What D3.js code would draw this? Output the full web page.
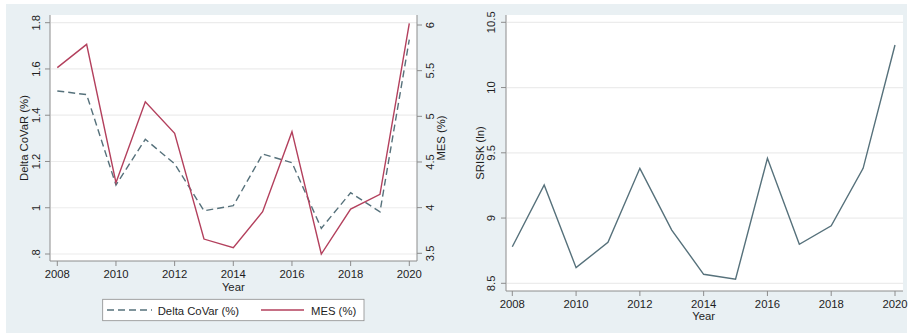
<!DOCTYPE html>
<html>
<head>
<meta charset="utf-8">
<script src="https://cdn.jsdelivr.net/npm/d3@7"></script>
<style>
  html, body { margin: 0; padding: 0; background: #ffffff; }
  svg { display: block; }
  text { font-family: "Liberation Sans", Arial, Helvetica, sans-serif; fill: #1e1e1e; }
</style>
</head>
<body>
<svg id="chart" width="910" height="335"></svg>
<script>
// Annual series, 2008-2020
const years = [2008, 2009, 2010, 2011, 2012, 2013, 2014, 2015, 2016, 2017, 2018, 2019, 2020];
const deltaCoVaR = [1.505, 1.489, 1.098, 1.296, 1.19, 0.987, 1.009, 1.232, 1.195, 0.911, 1.065, 0.982, 1.727];
const mes = [5.533, 5.788, 4.273, 5.16, 4.814, 3.656, 3.561, 3.955, 4.832, 3.492, 3.985, 4.146, 6.018];
const srisk = [8.78, 9.253, 8.62, 8.814, 9.381, 8.908, 8.569, 8.531, 9.458, 8.799, 8.941, 9.381, 10.326];

// Tick values
const yearTicks = [2008, 2010, 2012, 2014, 2016, 2018, 2020];
const covarTicks = [0.8, 1.0, 1.2, 1.4, 1.6, 1.8];
const covarTickLabels = [".8", "1", "1.2", "1.4", "1.6", "1.8"];
const mesTicks = [3.5, 4, 4.5, 5, 5.5, 6];
const mesTickLabels = ["3.5", "4", "4.5", "5", "5.5", "6"];
const sriskTicks = [8.5, 9, 9.5, 10, 10.5];
const sriskTickLabels = ["8.5", "9", "9.5", "10", "10.5"];

const COL_COVAR = "#56717b";
const COL_MES = "#b3405d";
const COL_AXIS = "#8c8c8c";
const COL_GRID = "#ececec";
const FONT = 11.3;

const svg = d3.select("#chart");

// shared background of the combined figure
svg.append("rect").attr("x", 6).attr("y", 4).attr("width", 901).attr("height", 329).attr("fill", "#e9f0f3");

function verticalLabel(g, x, y, txt, size) {
  g.append("text")
    .attr("transform", `translate(${x},${y}) rotate(-90)`)
    .attr("text-anchor", "middle")
    .style("font-size", size + "px")
    .text(txt);
}

function drawPanel(cfg) {
  const g = svg.append("g");
  const { left, right, top, bottom, x, yL } = cfg;

  g.append("rect").attr("x", left).attr("y", top)
    .attr("width", right - left).attr("height", bottom - top).attr("fill", "#ffffff");

  // horizontal gridlines at left-axis ticks
  g.selectAll("line.grid").data(cfg.leftTicks).join("line")
    .attr("x1", left + 1).attr("x2", right)
    .attr("y1", d => yL(d)).attr("y2", d => yL(d))
    .attr("stroke", COL_GRID).attr("stroke-width", 1.2);

  // axis lines
  g.append("line").attr("x1", left).attr("x2", left).attr("y1", top).attr("y2", bottom)
    .attr("stroke", COL_AXIS).attr("stroke-width", 1);
  g.append("line").attr("x1", left).attr("x2", right).attr("y1", bottom).attr("y2", bottom)
    .attr("stroke", COL_AXIS).attr("stroke-width", 1);

  // left ticks + rotated labels
  cfg.leftTicks.forEach((t, i) => {
    g.append("line").attr("x1", left - 5).attr("x2", left).attr("y1", yL(t)).attr("y2", yL(t))
      .attr("stroke", COL_AXIS);
    verticalLabel(g, cfg.leftLabelX, yL(t), cfg.leftLabels[i], FONT);
  });
  verticalLabel(g, cfg.leftTitleX, (top + bottom) / 2 + cfg.titleShift, cfg.leftTitle, FONT);

  // bottom axis
  yearTicks.forEach(t => {
    g.append("line").attr("x1", x(t)).attr("x2", x(t)).attr("y1", bottom).attr("y2", bottom + 5)
      .attr("stroke", COL_AXIS);
    g.append("text").attr("x", x(t)).attr("y", cfg.xLabelY).attr("text-anchor", "middle")
      .style("font-size", FONT + "px").text(t);
  });
  g.append("text").attr("x", (x(2008) + x(2020)) / 2).attr("y", cfg.xTitleY)
    .attr("text-anchor", "middle").style("font-size", FONT + "px").text("Year");
  return g;
}

// ---- Panel 1: Delta CoVaR and MES ----
const p1 = { left: 50, right: 417, top: 15, bottom: 261 };
p1.x = d3.scaleLinear().domain([2008, 2020]).range([57.3, 409.3]);
p1.yL = d3.scaleLinear().domain([0.8, 1.8]).range([254, 22.7]);
const yMes = d3.scaleLinear().domain([3.5, 6]).range([253.3, 25]);
Object.assign(p1, {
  leftTicks: covarTicks, leftLabels: covarTickLabels, leftLabelX: 40,
  leftTitleX: 28, leftTitle: "Delta CoVaR (%)", titleShift: 0,
  xLabelY: 278, xTitleY: 290.5
});
const g1 = drawPanel(p1);

// right axis for MES
g1.append("line").attr("x1", p1.right).attr("x2", p1.right).attr("y1", p1.top).attr("y2", p1.bottom)
  .attr("stroke", COL_AXIS);
mesTicks.forEach((t, i) => {
  g1.append("line").attr("x1", p1.right).attr("x2", p1.right + 5).attr("y1", yMes(t)).attr("y2", yMes(t))
    .attr("stroke", COL_AXIS);
  verticalLabel(g1, 433.5, yMes(t), mesTickLabels[i], FONT);
});
verticalLabel(g1, 445, (p1.top + p1.bottom) / 2, "MES (%)", FONT);

const lineCovar = d3.line().x((d, i) => p1.x(years[i])).y(d => p1.yL(d));
const lineMes = d3.line().x((d, i) => p1.x(years[i])).y(d => yMes(d));
g1.append("path").datum(deltaCoVaR).attr("d", lineCovar).attr("fill", "none")
  .attr("stroke", COL_COVAR).attr("stroke-width", 1.4).attr("stroke-dasharray", "7,4");
g1.append("path").datum(mes).attr("d", lineMes).attr("fill", "none")
  .attr("stroke", COL_MES).attr("stroke-width", 1.4);

// legend
const lg = g1.append("g");
lg.append("rect").attr("x", 102.7).attr("y", 299.3).attr("width", 261.3).attr("height", 21.4)
  .attr("fill", "#ffffff").attr("stroke", "#8c8c8c").attr("stroke-width", 0.8);
lg.append("line").attr("x1", 107).attr("x2", 152).attr("y1", 310).attr("y2", 310)
  .attr("stroke", COL_COVAR).attr("stroke-width", 1.4).attr("stroke-dasharray", "7,4");
lg.append("text").attr("x", 157.7).attr("y", 314.5).style("font-size", FONT + "px").text("Delta CoVar (%)");
lg.append("line").attr("x1", 261).attr("x2", 304).attr("y1", 310).attr("y2", 310)
  .attr("stroke", COL_MES).attr("stroke-width", 1.4);
lg.append("text").attr("x", 311).attr("y", 314.5).style("font-size", FONT + "px").text("MES (%)");

// ---- Panel 2: SRISK ----
const p2 = { left: 506, right: 903, top: 15, bottom: 291 };
p2.x = d3.scaleLinear().domain([2008, 2020]).range([512.3, 895]);
p2.yL = d3.scaleLinear().domain([8.5, 10.5]).range([283.3, 22.3]);
Object.assign(p2, {
  leftTicks: sriskTicks, leftLabels: sriskTickLabels, leftLabelX: 495,
  leftTitleX: 484, leftTitle: "SRISK (ln)", titleShift: 0,
  xLabelY: 308, xTitleY: 320
});
const g2 = drawPanel(p2);
const lineSrisk = d3.line().x((d, i) => p2.x(years[i])).y(d => p2.yL(d));
g2.append("path").datum(srisk).attr("d", lineSrisk).attr("fill", "none")
  .attr("stroke", COL_COVAR).attr("stroke-width", 1.4);
</script>
</body>
</html>
